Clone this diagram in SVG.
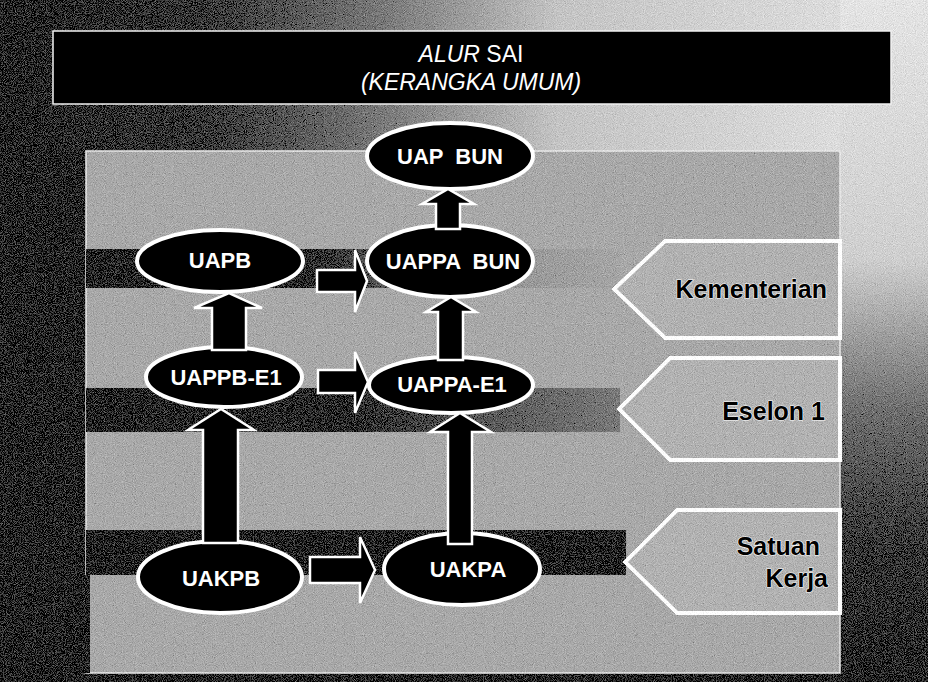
<svg xmlns="http://www.w3.org/2000/svg" width="928" height="682" viewBox="0 0 928 682">
  <defs>
    <linearGradient id="topGrad" x1="0" y1="0" x2="928" y2="0" gradientUnits="userSpaceOnUse">
      <stop offset="0" stop-color="#262626"/>
      <stop offset="0.22" stop-color="#3a3a3a"/>
      <stop offset="0.42" stop-color="#7d7d7d"/>
      <stop offset="0.6" stop-color="#c4c4c4"/>
      <stop offset="1" stop-color="#e4e4e4"/>
    </linearGradient>
    <linearGradient id="rightGrad" x1="0" y1="0" x2="0" y2="682" gradientUnits="userSpaceOnUse">
      <stop offset="0" stop-color="#e4e4e4"/>
      <stop offset="0.38" stop-color="#cfcfcf"/>
      <stop offset="0.6" stop-color="#707070"/>
      <stop offset="0.8" stop-color="#3a3a3a"/>
      <stop offset="1" stop-color="#262626"/>
    </linearGradient>
    <linearGradient id="bandA" x1="86" y1="0" x2="620" y2="0" gradientUnits="userSpaceOnUse">
      <stop offset="0" stop-color="#262626"/>
      <stop offset="0.42" stop-color="#2e2e2e"/>
      <stop offset="0.56" stop-color="#5a5a5a"/>
      <stop offset="0.75" stop-color="#959595"/>
      <stop offset="1" stop-color="#a6a6a6"/>
    </linearGradient>
    <linearGradient id="bandB" x1="86" y1="0" x2="620" y2="0" gradientUnits="userSpaceOnUse">
      <stop offset="0" stop-color="#262626"/>
      <stop offset="0.5" stop-color="#2e2e2e"/>
      <stop offset="0.7" stop-color="#555555"/>
      <stop offset="1" stop-color="#7a7a7a"/>
    </linearGradient>
    <filter id="grain" x="0" y="0" width="928" height="682" filterUnits="userSpaceOnUse">
      <feTurbulence type="fractalNoise" baseFrequency="1.1" numOctaves="1" seed="7" result="noise"/>
      <feColorMatrix in="noise" type="matrix" values="0.33 0.33 0.33 0 0  0.33 0.33 0.33 0 0  0.33 0.33 0.33 0 0  0 0 0 0 1" result="gray"/>
      <feComposite in="SourceGraphic" in2="gray" operator="arithmetic" k1="0" k2="1" k3="0.9" k4="-0.45" result="mix"/>
      <feComposite in="mix" in2="SourceGraphic" operator="in"/>
    </filter>
    <style>
      .panel { fill: #a9a9a9; }
      .node ellipse { fill: #000; stroke: #fff; stroke-width: 4; }
      .node text { fill: #fff; font-family: "Liberation Sans", Arial, sans-serif; font-weight: bold; font-size: 22px; text-anchor: middle; }
      .label polygon { fill: #b2b2b2; stroke: #fff; stroke-width: 4; stroke-linejoin: miter; filter: url(#grain); }
      .label text { fill: #000; font-family: "Liberation Sans", Arial, sans-serif; font-weight: bold; font-size: 25px; text-anchor: end; stroke: #fff; stroke-width: 1.2; paint-order: stroke; }
      .arrow { fill: #000; stroke: #fff; stroke-width: 2.5; stroke-linejoin: miter; }
      .title { fill: #fff; font-family: "Liberation Sans", Arial, sans-serif; font-size: 23px; text-anchor: middle; }
    </style>
  </defs>

  <!-- background -->
  <g id="background" filter="url(#grain)">
    <rect x="0" y="0" width="928" height="682" fill="#262626"/>
    <rect x="0" y="0" width="928" height="152" fill="url(#topGrad)"/>
    <rect x="840" y="0" width="88" height="682" fill="url(#rightGrad)"/>
    <rect x="0" y="0" width="40" height="682" fill="#262626"/>
    <rect class="panel" x="86" y="151" width="754" height="522" stroke="#e8e8e8" stroke-width="1.5"/>
    <rect x="86" y="249" width="534" height="39" fill="url(#bandA)"/>
    <rect x="86" y="388" width="534" height="44" fill="url(#bandB)"/>
    <rect x="86" y="530" width="540" height="45" fill="#242424"/>
    <rect x="84" y="575" width="6" height="98" fill="#262626"/>
  </g>

  <!-- title -->
  <g id="title">
    <rect x="53" y="31" width="838" height="73" fill="#000" stroke="#f2f2f2" stroke-width="1.5"/>
    <text class="title" x="471" y="62"><tspan font-style="italic">ALUR</tspan> SAI</text>
    <text class="title" x="471" y="90" font-style="italic">(KERANGKA UMUM)</text>
  </g>

  <!-- level labels -->
  <g id="label-kementerian" class="label">
    <polygon points="665,241 840,241 840,338 665,338 614,289"/>
    <text x="827" y="298">Kementerian</text>
  </g>
  <g id="label-eselon1" class="label">
    <polygon points="670,358 840,358 840,460 670,460 619,409"/>
    <text x="825" y="420">Eselon 1</text>
  </g>
  <g id="label-satuan-kerja" class="label">
    <polygon points="677,510 840,510 840,613 677,613 625,562"/>
    <text x="820" y="555">Satuan</text>
    <text x="828" y="587">Kerja</text>
  </g>

  <!-- nodes -->
  <g id="uap-bun" class="node">
    <ellipse cx="450" cy="156" rx="83" ry="33"/>
    <text x="450" y="164" xml:space="preserve">UAP  BUN</text>
  </g>
  <g id="uappa-bun" class="node">
    <ellipse cx="450" cy="261" rx="83" ry="36"/>
    <text x="453" y="269" xml:space="preserve">UAPPA  BUN</text>
  </g>
  <g id="uapb" class="node">
    <ellipse cx="220" cy="261" rx="83" ry="31"/>
    <text x="220" y="268">UAPB</text>
  </g>
  <g id="uappb-e1" class="node">
    <ellipse cx="224" cy="377" rx="78" ry="30"/>
    <text x="226" y="385">UAPPB-E1</text>
  </g>
  <g id="uappa-e1" class="node">
    <ellipse cx="451" cy="385" rx="82" ry="28"/>
    <text x="452" y="392">UAPPA-E1</text>
  </g>
  <g id="uakpb" class="node">
    <ellipse cx="220" cy="577" rx="82" ry="36"/>
    <text x="221" y="586">UAKPB</text>
  </g>
  <g id="uakpa" class="node">
    <ellipse cx="462" cy="569" rx="78" ry="36"/>
    <text x="468" y="577">UAKPA</text>
  </g>

  <!-- connectors -->
  <g id="connectors">
    <polygon class="arrow" points="436,229 436,204 422,204 448,189 474,204 460,204 460,229"/>
    <polygon class="arrow" points="438,360 438,312 426,312 451,297 476,312 463,312 463,360"/>
    <polygon class="arrow" points="448,544 448,432 430,432 460,413 491,432 472,432 472,544"/>
    <polygon class="arrow" points="212,350 212,308 194,308 229,293 262,308 246,308 246,350"/>
    <polygon class="arrow" points="203,543 203,430 188,430 221,409 254,430 238,430 238,543"/>
    <polygon class="arrow" points="317,270 355,270 355,250 367,281 355,312 355,292 317,292"/>
    <polygon class="arrow" points="318,370 355,370 355,352 368,382 355,413 355,393 318,393"/>
    <polygon class="arrow" points="310,557 360,557 360,537 375,570 360,603 360,583 310,583"/>
  </g>
</svg>
